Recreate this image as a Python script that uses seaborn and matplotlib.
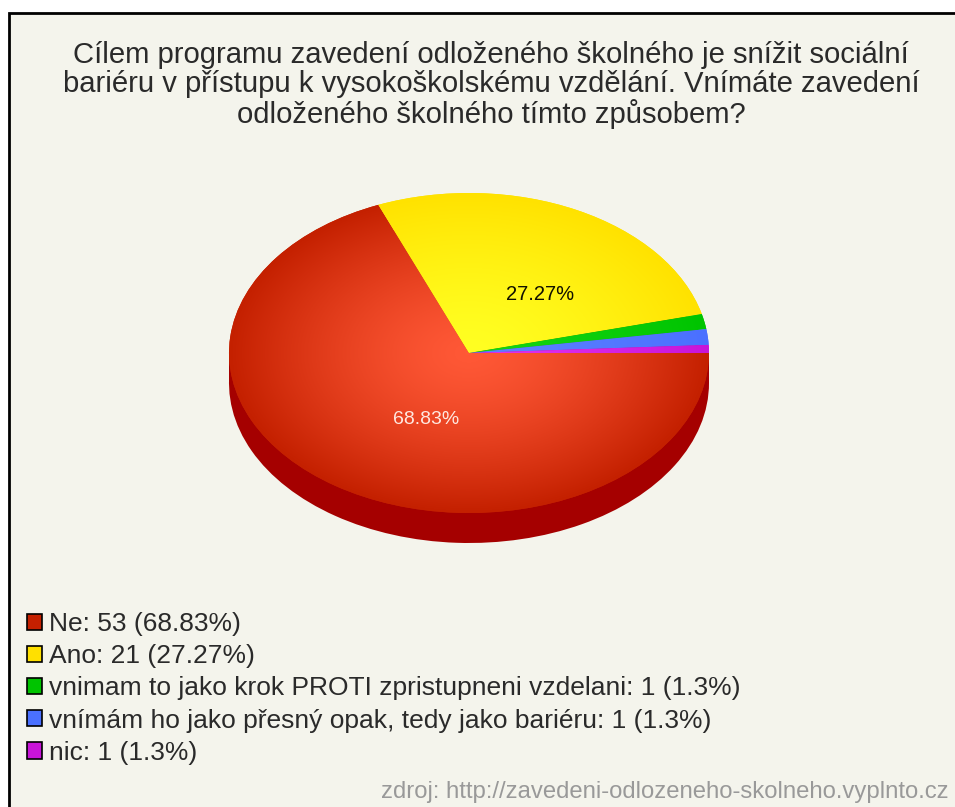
import numpy as np
import seaborn as sns
import matplotlib.pyplot as plt
from matplotlib.colors import LinearSegmentedColormap
from matplotlib.patches import Patch, Rectangle

title = ('Cílem programu zavedení odloženého školného je snížit sociální\n'
         'bariéru v přístupu k vysokoškolskému vzdělání. Vnímáte zavedení\n'
         'odloženého školného tímto způsobem?')
categories = ['Ne', 'Ano', 'vnimam to jako krok PROTI zpristupneni vzdelani',
              'vnímám ho jako přesný opak, tedy jako bariéru', 'nic']
counts = [53, 21, 1, 1, 1]
shares = ['68.83%', '27.27%', '1.3%', '1.3%', '1.3%']
# slice sizes as drawn in the picture, the three small ones are not equal there
drawn_degrees = [247.8, 98.1, 5.5, 5.7, 2.9]
source = 'zdroj: http://zavedeni-odlozeneho-skolneho.vyplnto.cz'

legend_colors = ['#c42000', '#ffe000', '#00c400', '#4a70ff', '#c814d8']
center_colors = ['#ff5836', '#ffff22', '#14d414', '#5c80ff', '#e030ee']
edge_colors = ['#c42000', '#ffe200', '#00c400', '#4a70ff', '#c814d8']
side_color = '#a50000'

W, H = 955, 807
sns.set_theme(style='white')
plt.rcParams['font.family'] = ['Liberation Sans', 'DejaVu Sans']

fig = plt.figure(figsize=(W / 100, H / 100), dpi=100, facecolor='white')

# background panel, open on the right and bottom like the screenshot
fig.patches.append(Rectangle((9 / W, -0.01), 1.02, 1 - 13 / H + 0.01, transform=fig.transFigure,
                             facecolor='#f4f4ec', edgecolor='black', linewidth=2, zorder=-1))

# pie axes in pixel terms: ellipse 480x320 with 30px of depth
depth = 30 / 160
ax = fig.add_axes([229 / W, 1 - 543 / H, 480 / W, 350 / H])
flat = {'linewidth': 0, 'edgecolor': 'none'}
ax.pie(drawn_degrees, colors=[side_color] * 5, startangle=0, counterclock=False,
       center=(0, -depth), radius=1, wedgeprops=flat)
ax.add_patch(Rectangle((-1, -depth), 2, depth, facecolor=side_color, edgecolor='none', zorder=0.5))
wedges, _ = ax.pie(drawn_degrees, colors=edge_colors, startangle=0, counterclock=False,
                   radius=1, wedgeprops=flat)
ax.set_aspect('auto')
ax.axis('off')

# radial shading for each slice
gx, gy = np.meshgrid(np.linspace(-1, 1, 480), np.linspace(1, -1, 320))
rr = np.clip(np.hypot(gx, gy), 0, 1) ** 1.4
for w, c0, c1 in zip(wedges, center_colors, edge_colors):
    cmap = LinearSegmentedColormap.from_list('shade', [c0, c1])
    im = ax.imshow(rr, cmap=cmap, vmin=0, vmax=1, extent=(-1, 1, -1, 1), aspect='auto',
                   zorder=3, interpolation='bilinear')
    im.set_clip_path(w)
ax.set_xlim(-1, 1)
ax.set_ylim(-1 - depth, 1)

ax.text(0.296, 0.366, shares[1], ha='center', va='center', fontsize=14.5, color='#111100', zorder=5)
ax.text(-0.18, -0.415, shares[0], ha='center', va='center', fontsize=14, color='#ffe8e0', zorder=5)

fig.text(491 / W, 1 - 85 / H, title, ha='center', va='center', fontsize=21.1,
         color='#2a2a2a', linespacing=1.05)

labels = [f'{c}: {n} ({s})' for c, n, s in zip(categories, counts, shares)]
handles = [Patch(facecolor=c, edgecolor='black', linewidth=1.2) for c in legend_colors]
fig.legend(handles, labels, loc='upper left', bbox_to_anchor=(27 / W, 1 - 612 / H),
           bbox_transform=fig.transFigure, frameon=False, fontsize=19, labelcolor='#2a2a2a',
           handlelength=0.57, handleheight=0.57, handletextpad=0.25, labelspacing=0.31,
           borderpad=0, borderaxespad=0)

fig.text(949 / W, 1 - 792 / H, source, ha='right', va='center', fontsize=17.2, color='#999999')

fig.savefig('out.png', dpi=100, facecolor=fig.get_facecolor())
